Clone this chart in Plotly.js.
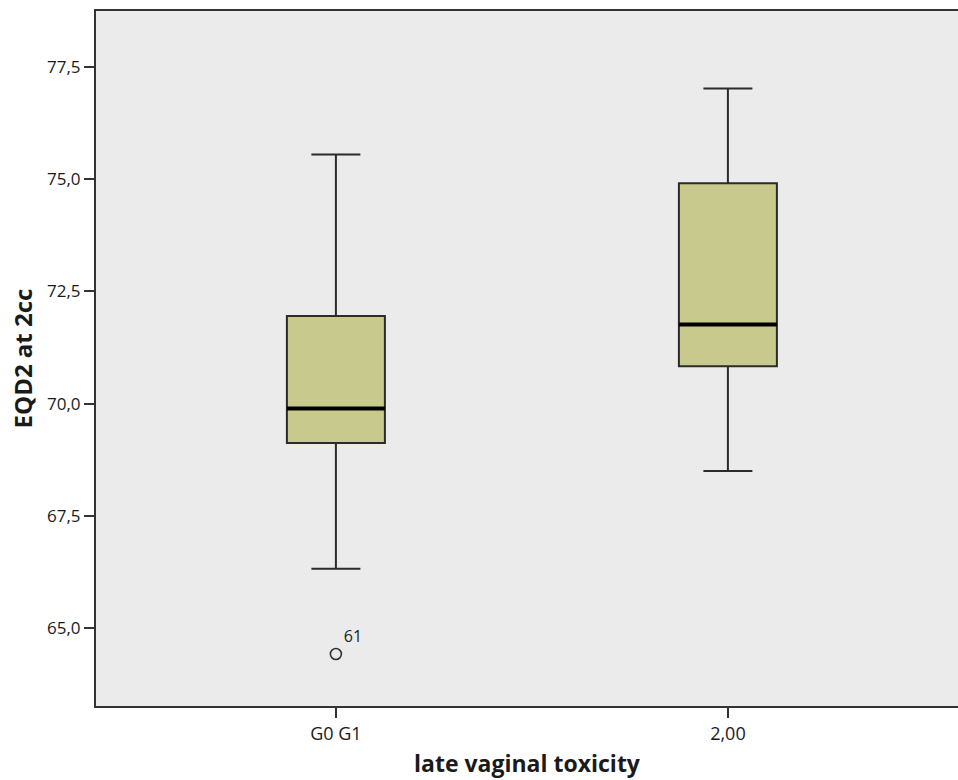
<!DOCTYPE html>
<html>
<head>
<meta charset="utf-8">
<script src="https://cdn.plot.ly/plotly-3.0.1.min.js"></script>
<style>html,body{margin:0;padding:0;background:#fff;}#chart{width:958px;height:780px;}</style>
</head>
<body>
<div id="chart"></div>
<script>
const categories = ["G0 G1", "2,00"];
const lowerWhisker = [66.32, 68.50];
const q1Values = [69.12, 70.83];
const medianValues = [69.89, 71.76];
const q3Values = [71.95, 74.91];
const upperWhisker = [75.55, 77.02];
const outlierCategory = ["G0 G1"];
const outlierValues = [64.42];
const outlierLabels = ["61"];
const yTicks = [65, 67.5, 70, 72.5, 75, 77.5];

const boxWidth = 0.25;
const lineColor = "#2b2b2b";

const boxTrace = {
  type: "box",
  x: categories,
  q1: q1Values,
  median: medianValues,
  q3: q3Values,
  lowerfence: lowerWhisker,
  upperfence: upperWhisker,
  boxpoints: false,
  width: boxWidth,
  whiskerwidth: 0.5,
  fillcolor: "#c8c98c",
  line: {color: lineColor, width: 2},
  hoverinfo: "skip",
  showlegend: false
};

const outlierTrace = {
  type: "scatter",
  mode: "markers+text",
  x: outlierCategory,
  y: outlierValues,
  text: outlierLabels,
  textposition: "top right",
  textfont: {family: "Open Sans, DejaVu Sans, sans-serif", size: 16, color: "#222"},
  marker: {symbol: "circle-open", size: 11, color: "#333", line: {width: 1.6, color: "#333"}},
  showlegend: false,
  hoverinfo: "skip"
};

const medianShapes = medianValues.map((m, i) => ({
  type: "line", xref: "x", yref: "y",
  x0: i - boxWidth / 2, x1: i + boxWidth / 2, y0: m, y1: m,
  line: {color: "#000", width: 4}
}));

const layout = {
  width: 958, height: 780,
  margin: {l: 96, r: 0, t: 11, b: 74},
  paper_bgcolor: "#ffffff",
  plot_bgcolor: "#ebebeb",
  separators: ",.",
  font: {family: "Open Sans, DejaVu Sans, sans-serif", color: "#1a1a1a"},
  shapes: medianShapes,
  xaxis: {
    type: "category",
    categoryorder: "array",
    categoryarray: categories,
    range: [-0.612, 1.587],
    showgrid: false, zeroline: false,
    showline: true, linecolor: "#333", linewidth: 2, mirror: true,
    ticks: "outside", ticklen: 10, tickwidth: 2, tickcolor: "#333",
    tickfont: {size: 18, color: "#1a1a1a"},
    title: {text: "<b>late vaginal toxicity</b>", font: {size: 23, color: "#1a1a1a"}, standoff: 12}
  },
  yaxis: {
    range: [63.26, 78.75],
    tickvals: yTicks,
    tickformat: ".1f",
    showgrid: false, zeroline: false,
    showline: true, linecolor: "#333", linewidth: 2,
    ticks: "outside", ticklen: 10, tickwidth: 2, tickcolor: "#333",
    tickfont: {size: 17, color: "#1a1a1a"},
    title: {text: "<b>EQD2 at 2cc</b>", font: {size: 24, color: "#1a1a1a"}, standoff: 8}
  }
};

Plotly.newPlot("chart", [boxTrace, outlierTrace], layout, {displayModeBar: false, staticPlot: true});
</script>
</body>
</html>
